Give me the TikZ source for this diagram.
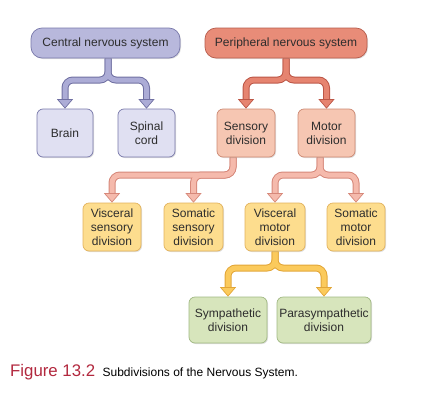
\documentclass[tikz,border=0pt]{standalone}
\usepackage{fontspec}
\setmainfont{Liberation Sans}
\usepackage{xcolor}
\usetikzlibrary{arrows.meta, positioning, shadows, backgrounds}

\definecolor{inktext}{RGB}{45,45,45}
\definecolor{cnsfill}{RGB}{184,184,220}
\definecolor{cnsedge}{RGB}{120,120,170}
\definecolor{cnskid}{RGB}{224,224,242}
\definecolor{cnslight}{RGB}{172,172,214}
\definecolor{cnsdark}{RGB}{112,112,162}
\definecolor{pnsfill}{RGB}{232,140,120}
\definecolor{pnsedge}{RGB}{182,92,76}
\definecolor{pnskid}{RGB}{246,198,178}
\definecolor{pnskidedge}{RGB}{204,136,114}
\definecolor{pnslight}{RGB}{230,132,112}
\definecolor{pnsdark}{RGB}{188,86,70}
\definecolor{pinklight}{RGB}{245,186,172}
\definecolor{pinkdark}{RGB}{214,136,122}
\definecolor{yelfill}{RGB}{253,221,142}
\definecolor{yeledge}{RGB}{226,178,92}
\definecolor{yellight}{RGB}{251,202,92}
\definecolor{yeldark}{RGB}{226,166,56}
\definecolor{grnfill}{RGB}{215,229,188}
\definecolor{grnedge}{RGB}{160,184,130}
\definecolor{figred}{RGB}{178,40,62}

\tikzset{
  box/.style={draw, rounded corners=6pt, line width=0.7pt, align=center, inner sep=0pt,
    minimum height=48pt, text=inktext, font=\fontsize{12}{14}\selectfont,
    drop shadow={shadow xshift=1pt, shadow yshift=-1pt, opacity=0.25}},
  topbox/.style={box, rounded corners=11pt, minimum height=30pt, font=\fontsize{12}{14}\selectfont},
  cnsbox/.style={topbox, fill=cnsfill, draw=cnsedge},
  pnsbox/.style={topbox, fill=pnsfill, draw=pnsedge},
  cnskidbox/.style={box, fill=cnskid, draw=cnsedge},
  pnskidbox/.style={box, fill=pnskid, draw=pnskidedge},
  yelbox/.style={box, fill=yelfill, draw=yeledge},
  grnbox/.style={box, fill=grnfill, draw=grnedge, minimum height=46pt},
  forkout/.style={line width=7pt, rounded corners=8pt, shorten >=9pt, draw=#1},
  forkin/.style 2 args={line width=5pt, rounded corners=8pt, draw=#1,
    -{Triangle[length=9.5pt, width=16pt, line width=0.7pt, color=#2, fill=#1]}}
}

\newcommand{\forkarrow}[6]{%
  \foreach \kid in {#5,#6}
    \draw[forkout=#2] (#3.south -| #4) -- (#4) -| (\kid.north);
  \foreach \kid in {#5,#6}
    \draw[forkin={#1}{#2}] (#3.south -| #4) -- (#4) -| (\kid.north);
}

\begin{document}
\begin{tikzpicture}[x=1pt, y=-1pt]
  \path[use as bounding box] (0,0) rectangle (423,402);

  \node[cnsbox, minimum width=149pt] (cns) at (105.5, 43) {Central nervous system};
  \node[pnsbox, minimum width=162pt] (pns) at (286, 43) {Peripheral nervous system};

  \node[cnskidbox, minimum width=56pt] (brain) at (65, 133) {Brain};
  \node[cnskidbox, minimum width=57pt] (spinal) at (146.5, 133) {Spinal\\cord};
  \node[pnskidbox, minimum width=58pt] (sensory) at (246, 133) {Sensory\\division};
  \node[pnskidbox, minimum width=57pt] (motor) at (326.5, 133) {Motor\\division};

  \node[yelbox, minimum width=58pt] (vissens) at (112, 227) {Visceral\\sensory\\division};
  \node[yelbox, minimum width=59pt] (somsens) at (193.5, 227) {Somatic\\sensory\\division};
  \node[yelbox, minimum width=60pt] (vismot) at (275, 227) {Visceral\\motor\\division};
  \node[yelbox, minimum width=58pt] (sommot) at (356, 227) {Somatic\\motor\\division};

  \node[grnbox, minimum width=78pt] (symp) at (228, 320) {Sympathetic\\division};
  \node[grnbox, minimum width=94pt] (parasymp) at (324, 320) {Parasympathetic\\division};

  \coordinate (cnssplit) at (108, 80);
  \coordinate (pnssplit) at (286, 80);
  \coordinate (senssplit) at (233, 175);
  \coordinate (motsplit) at (320, 175);
  \coordinate (vissplit) at (275, 268);

  \begin{scope}[on background layer]
    \forkarrow{cnslight}{cnsdark}{cns}{cnssplit}{brain}{spinal}
    \forkarrow{pnslight}{pnsdark}{pns}{pnssplit}{sensory}{motor}
    \forkarrow{pinklight}{pinkdark}{sensory}{senssplit}{vissens}{somsens}
    \forkarrow{pinklight}{pinkdark}{motor}{motsplit}{vismot}{sommot}
    \forkarrow{yellight}{yeldark}{vismot}{vissplit}{symp}{parasymp}
  \end{scope}

  \node[anchor=base west, inner sep=0pt, text=figred, font=\fontsize{16.8}{18}\selectfont] (figno) at (10, 376) {Figure 13.2};
  \node[anchor=base west, inner sep=0pt, text=black, font=\fontsize{12}{14}\selectfont] (figtitle) at ([xshift=7pt]figno.base east) {Subdivisions of the Nervous System.};
\end{tikzpicture}
\end{document}
